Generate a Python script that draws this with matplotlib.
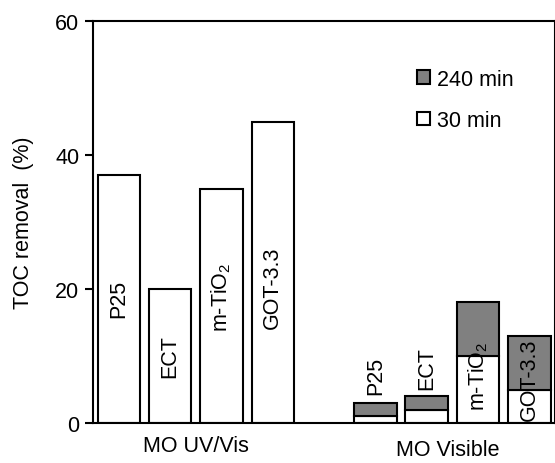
import matplotlib
matplotlib.use("Agg")
import matplotlib.pyplot as plt

plt.rcParams['font.family'] = ['Liberation Sans', 'DejaVu Sans']
plt.rcParams['font.size'] = 15.5

# data
groups = ["MO UV/Vis", "MO Visible"]
samples = ["P25", "ECT", "m-TiO$\\mathregular{_2}$", "GOT-3.3"]
uv_30 = [37, 20, 35, 45]
vis_30 = [1, 2, 10, 5]
vis_240 = [3, 4, 18, 13]
uv_label_y = [18.7, 10, 19, 20.3]
vis_label_y = [7.2, 8.3, 7.1, 6.6]

uv_x = [0, 1, 2, 3]
vis_x = [5, 6, 7, 8]
w = 0.83

fig = plt.figure(figsize=(5.55, 4.64), dpi=100)
ax = fig.add_axes([0.168, 0.0862, 0.832, 0.866])

ax.bar(uv_x, uv_30, width=w, color="white", edgecolor="black", linewidth=1.5)
ax.bar(vis_x, vis_30, width=w, color="white", edgecolor="black", linewidth=1.5,
       label="30 min")
ax.bar(vis_x, [b - a for a, b in zip(vis_30, vis_240)], bottom=vis_30, width=w,
       color="#808080", edgecolor="black", linewidth=1.5, label="240 min")

for x, y, s in zip(uv_x, uv_label_y, samples):
    ax.text(x, y, s, rotation=90, ha="center", va="center")
for x, y, s in zip(vis_x, vis_label_y, samples):
    ax.text(x, y, s, rotation=90, ha="center", va="center")

ax.set_xlim(-0.5, 8.5)
ax.set_ylim(0, 60)
ax.set_yticks([0, 20, 40, 60])
ax.set_xticks([])
# category labels
ax.text(1.5, -3.4, groups[0], ha="center", va="center", clip_on=False)
ax.text(6.4, -4.0, groups[1], ha="center", va="center", clip_on=False)
ax.tick_params(axis="y", length=6, width=1.5, direction="out", pad=4)
for sp in ax.spines.values():
    sp.set_linewidth(1.5)
ax.set_ylabel("TOC removal  (%)", labelpad=15)

h, l = ax.get_legend_handles_labels()
ax.legend(h[::-1], l[::-1], loc="upper left", bbox_to_anchor=(0.66, 0.93),
          frameon=False, handlelength=0.6, handleheight=0.6, handletextpad=0.3,
          labelspacing=0.95)

fig.savefig("out.png", dpi=100)
